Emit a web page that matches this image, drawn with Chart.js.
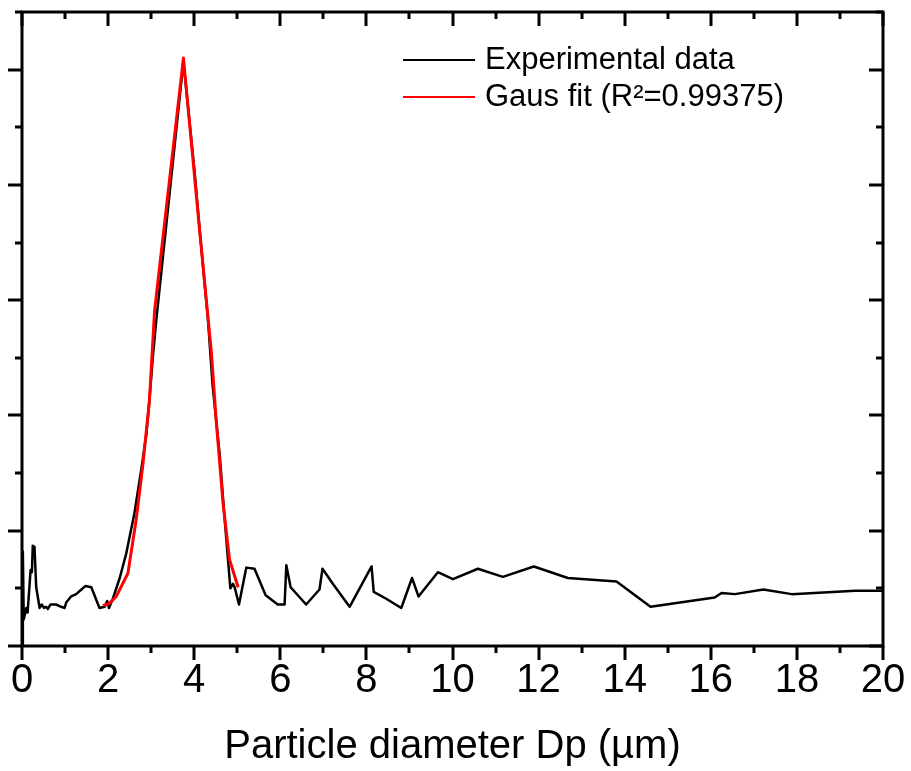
<!DOCTYPE html>
<html>
<head>
<meta charset="utf-8">
<script src="https://cdn.jsdelivr.net/npm/chart.js@4.4.0/dist/chart.umd.min.js"></script>
<style>
  html, body { margin: 0; padding: 0; background: #fff; }
  canvas { display: block; }
</style>
</head>
<body>
<canvas id="chart" width="911" height="771"></canvas>
<script>
// ── Data ────────────────────────────────────────────────────────────────────

const expDiameter = [
  0.005, 0.02, 0.04, 0.10, 0.13, 0.20, 0.23, 0.25, 0.29, 0.33, 0.41, 0.46, 0.51, 0.56, 0.60,
  0.66, 0.79, 0.91, 0.99, 1.03, 1.14, 1.26, 1.38, 1.47, 1.61, 1.80, 1.92, 1.98, 2.02, 2.11,
  2.27, 2.42, 2.61, 2.77, 2.89, 2.96, 3.04, 3.12, 3.75, 4.01, 4.12, 4.32, 4.43, 4.59, 4.71,
  4.84, 4.90, 4.94, 5.04, 5.21, 5.40, 5.66, 5.94, 6.10, 6.14, 6.24, 6.60, 6.91, 6.98, 7.22,
  7.61, 8.12, 8.17, 8.46, 8.81, 9.06, 9.21, 9.66, 10.01, 10.59, 11.17, 11.89, 12.68, 13.81,
  14.60, 16.09, 16.25, 16.56, 17.22, 17.88, 19.35, 20.0
];
const expSignal = [
  0.00, 0.82, 0.23, 0.33, 0.29, 0.66, 0.64, 0.87, 0.86, 0.51, 0.33, 0.36, 0.33, 0.34, 0.32,
  0.36, 0.36, 0.34, 0.33, 0.38, 0.43, 0.45, 0.49, 0.52, 0.51, 0.33, 0.34, 0.39, 0.33, 0.41,
  0.59, 0.80, 1.15, 1.53, 1.84, 2.13, 2.51, 2.83, 5.07, 4.11, 3.64, 2.83, 2.25, 1.67, 1.09,
  0.50, 0.54, 0.51, 0.36, 0.68, 0.67, 0.44, 0.36, 0.36, 0.70, 0.51, 0.36, 0.49, 0.67, 0.54,
  0.34, 0.69, 0.47, 0.41, 0.33, 0.59, 0.43, 0.64, 0.58, 0.67, 0.60, 0.69, 0.59, 0.56,
  0.34, 0.42, 0.46, 0.45, 0.49, 0.45, 0.48, 0.48
];

const fitDiameter = [1.88, 2.03, 2.19, 2.46, 2.65, 2.81, 2.96, 3.08, 3.75, 4.12, 4.40, 4.51, 4.67, 4.82, 5.02];
const fitSignal   = [0.35, 0.37, 0.43, 0.63, 1.09, 1.58, 2.13, 2.91, 5.10, 3.63, 2.54, 1.96, 1.24, 0.75, 0.51];

const xTickValues = [0, 2, 4, 6, 8, 10, 12, 14, 16, 18, 20];
const legendLabels = ['Experimental data', 'Gaus fit (R\u00b2=0.99375)'];
const axisTitle    = 'Particle diameter Dp (\u00b5m)';

const FONT = 'Arial, "Liberation Sans", sans-serif';

// ── Frame plugin: box, mirrored ticks, legend ───────────────────────────────

const framePlugin = {
  id: 'frame',
  afterDatasetsDraw(chart) {
    const { ctx, chartArea: a, scales: { x, y } } = chart;
    ctx.save();
    ctx.strokeStyle = '#000';
    ctx.lineWidth = 3;
    ctx.lineCap = 'butt';
    ctx.strokeRect(a.left, a.top, a.right - a.left, a.bottom - a.top);

    // x ticks: outward at bottom, inward at top
    for (let v = 0; v <= 20; v += 1) {
      const px  = Math.round(x.getPixelForValue(v));
      const len = v % 2 === 0 ? 14 : 7;
      ctx.beginPath();
      ctx.moveTo(px, a.bottom); ctx.lineTo(px, a.bottom + len);
      ctx.moveTo(px, a.top);    ctx.lineTo(px, a.top + len);
      ctx.stroke();
    }
    // y ticks: outward at left, inward at right
    for (let v = 0; v <= 5.5; v += 0.5) {
      const py  = Math.round(y.getPixelForValue(v));
      const len = Number.isInteger(v) ? 14 : 7;
      ctx.beginPath();
      ctx.moveTo(a.left, py);  ctx.lineTo(a.left - len, py);
      ctx.moveTo(a.right, py); ctx.lineTo(a.right - len, py);
      ctx.stroke();
    }

    // legend
    const ds = chart.data.datasets;
    const rows = [60, 97];
    ctx.font = `31px ${FONT}`;
    ctx.textBaseline = 'middle';
    ctx.fillStyle = '#000';
    ds.forEach((d, i) => {
      ctx.strokeStyle = d.borderColor;
      ctx.lineWidth = 2;
      ctx.beginPath();
      ctx.moveTo(403, rows[i]); ctx.lineTo(475, rows[i]);
      ctx.stroke();
      ctx.fillText(legendLabels[i], 485, rows[i]);
    });
    ctx.restore();
  }
};

// ── Chart ───────────────────────────────────────────────────────────────────

const expPoints = expDiameter.map((v, i) => ({ x: v, y: expSignal[i] }));
const fitPoints = fitDiameter.map((v, i) => ({ x: v, y: fitSignal[i] }));

new Chart(document.getElementById('chart').getContext('2d'), {
  type: 'line',
  data: {
    datasets: [
      { label: legendLabels[0], data: expPoints, borderColor: '#000000', borderWidth: 2.5,
        borderJoinStyle: 'round', pointRadius: 0, tension: 0, order: 2 },
      { label: legendLabels[1], data: fitPoints, borderColor: '#ff0000', borderWidth: 3,
        borderJoinStyle: 'round', pointRadius: 0, tension: 0, order: 1 },
    ],
  },
  options: {
    responsive: false,
    animation: false,
    layout: { padding: { top: 12, right: 28, left: 0, bottom: 0 } },
    plugins: { legend: { display: false }, tooltip: { enabled: false } },
    scales: {
      x: {
        type: 'linear', min: 0, max: 20,
        afterFit: s => { s.height = 125; },
        afterBuildTicks: s => { s.ticks = xTickValues.map(v => ({ value: v })); },
        grid: { display: false, drawTicks: true, tickLength: 14 },
        border: { display: false },
        ticks: { color: '#000', font: { family: FONT, size: 40 }, padding: -3, maxRotation: 0, autoSkip: false },
        title: { display: true, text: axisTitle, color: '#000', font: { family: FONT, size: 40 }, padding: { top: 0, bottom: 0 } },
      },
      y: {
        type: 'linear', min: 0, max: 5.5,
        afterFit: s => { s.width = 22; },
        grid: { display: false },
        border: { display: false },
        ticks: { display: false },
      },
    },
  },
  plugins: [framePlugin],
});
</script>
</body>
</html>
